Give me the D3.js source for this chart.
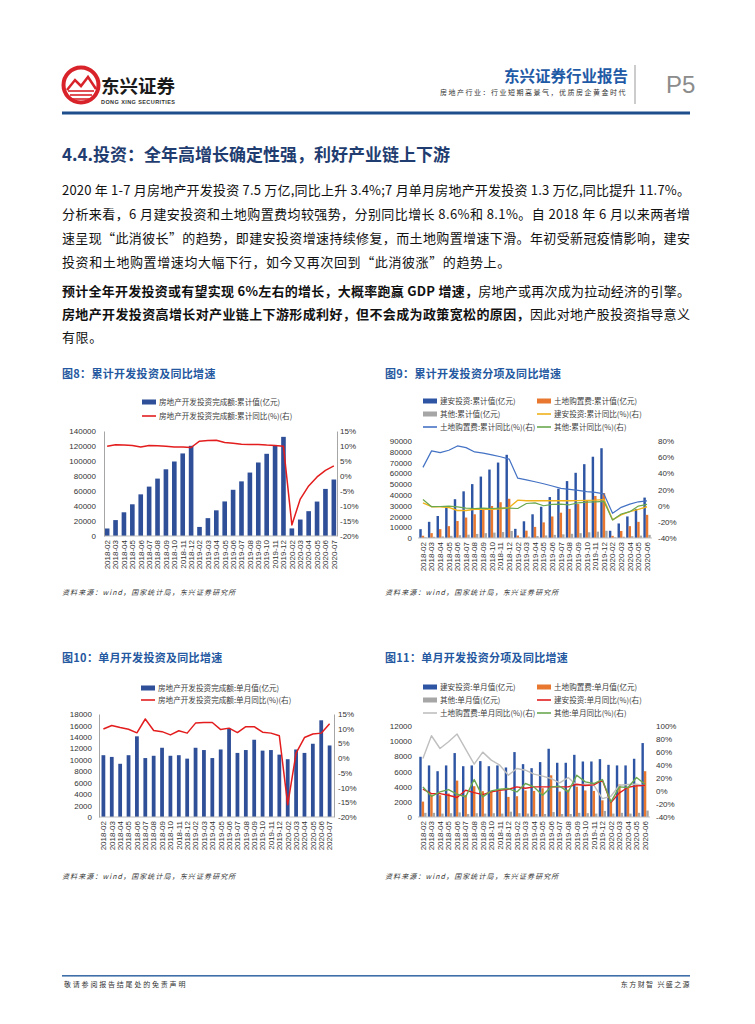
<!DOCTYPE html>
<html lang="zh">
<head>
<meta charset="UTF-8">
<title>房地产行业 P5</title>
<script src="https://d3js.org/d3.v7.min.js"></script>
<style>
  body { margin: 0; background: #fff; }
  svg { display: block; font-family: "Liberation Sans", Arial, "Noto Sans CJK SC", sans-serif; }
</style>
</head>
<body>
<svg width="755" height="1024"></svg>
<script>
// ---- data ----
const cats8 = ["2018-02","2018-03","2018-04","2018-05","2018-06","2018-07","2018-08","2018-09","2018-10","2018-11","2018-12",
  "2019-02","2019-03","2019-04","2019-05","2019-06","2019-07","2019-08","2019-09","2019-10","2019-11","2019-12",
  "2020-02","2020-03","2020-04","2020-05","2020-06","2020-07"];
const cats9 = cats8.slice(0, 27);

// 图8 累计
const invCum = [10008,21208,31612,42272,55531,65866,76519,88948,99325,110083,120264,
  12090,23803,34217,46075,61609,72843,84589,98008,109603,121265,132194,
  10115,21963,33103,45920,62780,75325];
const invCumYoy = [9.9,10.4,10.3,10.2,9.7,10.2,10.1,9.9,9.7,9.7,9.5,
  11.6,11.8,11.9,11.2,10.9,10.6,10.5,10.5,10.3,10.2,9.9,
  -16.3,-7.7,-3.3,-0.3,1.9,3.4];

// 图9 累计分项
const jaCum = [8200,15000,20400,28000,36000,43300,50000,57000,63500,70000,77200,
  8500,15500,22000,29000,38000,45700,52800,60500,68500,75400,83300,
  6700,13500,20000,27000,37500];
const landCum = [2100,4500,8200,11000,15800,19000,22000,26000,29700,33200,36400,
  2300,6800,10300,14500,20000,23500,27000,31500,35100,39000,41700,
  2000,6500,11000,15000,21500];
const otherCum = [700,1100,1500,2000,2600,3100,3800,4500,5000,5500,6500,
  700,1300,1800,2400,2900,3400,3900,4500,5300,5900,6700,
  600,1200,1700,2200,2900];
const jaCumYoy = [3.5,-1.3,-1.5,-2.2,-6,-6,-4.5,-4.5,-4.5,-3.8,-2.2,
  6.8,6,6,6,6,6,6,6.2,6.5,6.8,7.5,
  -17.5,-11.5,-7.4,-4.6,-1.3];
const landCumYoy = [47.4,67.8,65.7,68.6,73.9,71.8,66.5,65,62.9,60.5,57.6,
  34,32,29.6,27.1,24.3,21.4,20.2,19,17.4,16.5,14.5,
  -9.5,-2.1,1.9,4.8,6.0];
const otherCumYoy = [7.6,-1.3,-1,-0.5,-1.5,-3,-3.5,-3,-3.5,-3,-3,
  -3.5,2.7,3.5,-0.1,1.5,2,1.1,3.5,4.3,4.8,5.2,
  -17.6,-10.3,-7.4,-0.5,1.5];

// 图10 单月
const invMon = [10800,10500,9300,10800,14100,10300,10700,12100,10700,10800,10200,
  12100,11700,10300,11800,15500,11200,11700,13500,11600,11700,10900,
  10100,11800,11200,12800,16900,12500];
const invMonYoy = [9.9,11.1,10.4,9.8,8.6,13.3,9.4,9.0,7.9,9.3,8.5,
  11.9,12.1,12.1,9.7,10.2,8.7,10.7,10.7,8.8,8.5,7.6,
  -15.8,1.7,7.0,8.2,8.5,11.7];

// 图11 单月分项
const jaMon = [7940,6800,6040,6800,8430,6700,6800,7370,6700,6800,6530,
  8560,6970,6440,7240,9000,7150,7150,8200,7320,7320,7630,
  6880,6800,6800,7680,9750];
const landMon = [2030,2960,2870,3100,4800,2900,4060,3400,3300,3400,2650,
  2740,3500,3440,3800,5500,3350,3600,4000,3500,3440,2200,
  2200,4280,3970,4300,6040];
const otherMon = [550,550,450,500,600,400,500,450,500,450,700,
  500,450,400,400,650,400,400,550,500,450,800,
  450,550,450,550,850];
const jaMonYoy = [2.7,-4,-4,-6.5,-10,1.2,-2.4,-5.5,-1.4,1.2,2.7,
  6.3,4.3,6.3,6.3,6.3,6.3,6.3,10.4,8.4,9.4,16.6,
  -17.8,-2.9,5.8,7.9,8.4];
const landMonYoy = [50,85,65.4,75.7,87.6,64.4,41.3,59.8,47.5,39.7,24.3,
  34.6,32,25.9,22.8,19.2,12.5,20.7,8.9,10.4,8.9,-11.7,
  -8.1,8.9,9.9,10.4,7.9];
const otherMonYoy = [6.3,-8.1,-1.4,2.2,-5,-9.1,17.6,-9.1,0.2,2.7,3.8,
  -1.4,11.5,6.3,-6.5,6.3,7.3,-1.4,24.3,14,11.5,17.6,
  -16.8,6.3,5.3,20.7,10.4];

const paraLines = [
  "2020 年 1-7 月房地产开发投资 7.5 万亿,同比上升 3.4%;7 月单月房地产开发投资 1.3 万亿,同比提升 11.7%。",
  "分析来看，6 月建安投资和土地购置费均较强势，分别同比增长 8.6%和 8.1%。自 2018 年 6 月以来两者增",
  "速呈现“此消彼长”的趋势，即建安投资增速持续修复，而土地购置增速下滑。年初受新冠疫情影响，建安",
  "投资和土地购置增速均大幅下行，如今又再次回到“此消彼涨”的趋势上。"
];

// ---- page ----
const svg = d3.select("svg");
svg.append("rect").attr("width", 755).attr("height", 1024).attr("fill", "#fff");
const CJK = "'Noto Sans CJK SC', sans-serif";

// logo
svg.append("circle").attr("cx", 81).attr("cy", 85).attr("r", 17.5)
  .attr("fill", "none").attr("stroke", "#d9232a").attr("stroke-width", 4);
svg.append("path").attr("d", "M67,90 L75,80 L81,86 L88,77 L96,89")
  .attr("fill", "none").attr("stroke", "#d9232a").attr("stroke-width", 2.5);
[91, 95, 99].forEach(function (y, i) {
  svg.append("line").attr("x1", 68 + i * 2).attr("x2", 94 - i * 2).attr("y1", y).attr("y2", y)
    .attr("stroke", "#d9232a").attr("stroke-width", 1.6);
});
svg.append("text").attr("x", 101).attr("y", 93).attr("font-family", CJK).attr("font-weight", 700)
  .attr("font-size", 18.5).attr("fill", "#1a1a1a").text("东兴证券");
svg.append("text").attr("x", 101).attr("y", 104).attr("font-size", 5.5).attr("font-weight", 700)
  .attr("fill", "#333").attr("textLength", 74).text("DONG XING SECURITIES");

// header right
svg.append("text").attr("x", 628).attr("y", 82).attr("text-anchor", "end").attr("font-family", CJK)
  .attr("font-weight", 700).attr("font-size", 15.5).attr("fill", "#1f5aa6").text("东兴证券行业报告");
svg.append("text").attr("x", 627).attr("y", 95).attr("text-anchor", "end").attr("font-family", CJK)
  .attr("font-size", 7).attr("letter-spacing", 1.5).attr("fill", "#333")
  .text("房地产行业：行业短期高景气，优质房企黄金时代");
svg.append("line").attr("x1", 635).attr("x2", 635).attr("y1", 65).attr("y2", 104)
  .attr("stroke", "#999").attr("stroke-width", 1);
svg.append("text").attr("x", 666).attr("y", 93).attr("font-size", 24).attr("fill", "#8c8c8c").text("P5");
svg.append("rect").attr("x", 62).attr("y", 111.5).attr("width", 628).attr("height", 3).attr("fill", "#1f4e8c");

// section title
svg.append("text").attr("x", 62).attr("y", 161).attr("font-family", CJK).attr("font-weight", 700)
  .attr("font-size", 17).attr("fill", "#1f3d70").text("4.4.投资：全年高增长确定性强，利好产业链上下游");

function justify(t, width) {
  const w = t.node().getComputedTextLength();
  const n = t.text().length;
  t.attr("letter-spacing", (width - w) / (n - 1));
}

const bodyY = [195, 219, 243, 267];
paraLines.forEach(function (s, i) {
  const t = svg.append("text").attr("x", 62).attr("y", bodyY[i]).attr("font-family", CJK)
    .attr("font-size", 13).attr("fill", "#111").text(s);
  if (i < 3) justify(t, 628); else t.attr("letter-spacing", 0.6);
});

const boldLines = [
  ["预计全年开发投资或有望实现 6%左右的增长，大概率跑赢 GDP 增速，", "房地产或再次成为拉动经济的引擎。", 296, true],
  ["房地产开发投资高增长对产业链上下游形成利好，但不会成为政策宽松的原因，", "因此对地产股投资指导意义", 319, true],
  ["", "有限。", 342, false]
];
boldLines.forEach(function (b) {
  const t = svg.append("text").attr("x", 62).attr("y", b[2]).attr("font-family", CJK)
    .attr("font-size", 13).attr("fill", "#111");
  if (b[0]) t.append("tspan").attr("font-weight", 700).text(b[0]);
  t.append("tspan").text(b[1]);
  if (b[3]) justify(t, 628); else t.attr("letter-spacing", 0.6);
});

// ---- chart helper ----
function legend(items) {
  items.forEach(function (it) {
    if (it.type === "bar") {
      svg.append("rect").attr("x", it.x).attr("y", it.y - 2.5).attr("width", 14).attr("height", 5).attr("fill", it.color);
    } else {
      svg.append("line").attr("x1", it.x).attr("x2", it.x + 14).attr("y1", it.y).attr("y2", it.y)
        .attr("stroke", it.color).attr("stroke-width", 1.6);
    }
    svg.append("text").attr("x", it.x + 17).attr("y", it.y + 3).attr("font-family", CJK)
      .attr("font-size", 7.6).attr("fill", "#404040").text(it.label);
  });
}

function chart(c) {
  const g = svg.append("g");
  const x = d3.scaleBand().domain(c.cats).range([c.left, c.right]).paddingInner(c.pi).paddingOuter(c.po);
  const yL = d3.scaleLinear().domain(c.lDom).range([c.bottom, c.top]);
  const yR = d3.scaleLinear().domain(c.rDom).range([c.bottom, c.top]);
  const sub = d3.scaleBand().domain(d3.range(c.bars.length)).range([0, x.bandwidth()]);

  c.bars.forEach(function (b, i) {
    g.append("g").selectAll("rect").data(b.values).join("rect")
      .attr("x", (d, j) => x(c.cats[j]) + sub(i))
      .attr("width", sub.bandwidth())
      .attr("y", d => yL(d))
      .attr("height", d => yL(0) - yL(d))
      .attr("fill", b.color);
  });

  // baseline
  g.append("line").attr("x1", c.left).attr("x2", c.right).attr("y1", yL(0)).attr("y2", yL(0))
    .attr("stroke", "#bfbfbf").attr("stroke-width", 1);

  c.lines.forEach(function (l) {
    const line = d3.line().x((d, j) => x(c.cats[j]) + x.bandwidth() / 2).y(d => yR(d));
    g.append("path").datum(l.values).attr("d", line).attr("fill", "none")
      .attr("stroke", l.color).attr("stroke-width", l.w || 1.3).attr("stroke-linejoin", "round");
  });

  const axL = g.append("g").attr("transform", "translate(" + c.left + ",0)")
    .call(d3.axisLeft(yL).tickValues(c.lTicks).tickSize(0).tickPadding(c.lPad).tickFormat(d3.format("d")));
  const axR = g.append("g").attr("transform", "translate(" + c.right + ",0)")
    .call(d3.axisRight(yR).tickValues(c.rTicks).tickSize(0).tickPadding(c.rPad).tickFormat(d => d + "%"));
  const axX = g.append("g").attr("transform", "translate(0," + c.bottom + ")")
    .call(d3.axisBottom(x).tickSize(0));
  axX.select(".domain").remove();
  axX.selectAll("text").attr("transform", "rotate(-90)").attr("text-anchor", "end")
    .attr("x", -4).attr("y", 0).attr("dy", "0.35em");
  [axL, axR].forEach(function (a) {
    if (c.vAxis) a.select(".domain").attr("stroke", "#a6a6a6");
    else a.select(".domain").remove();
  });
  [axL, axR, axX].forEach(function (a) {
    a.attr("font-family", "'Liberation Sans', Arial, sans-serif").attr("font-size", 8);
    a.selectAll("text").attr("fill", "#333");
  });

  svg.append("text").attr("x", c.titleX).attr("y", c.titleY).attr("font-family", CJK).attr("font-weight", 700)
    .attr("font-size", 11).attr("letter-spacing", 0.3).attr("fill", "#2458a0").text(c.title);
  svg.append("text").attr("x", c.titleX).attr("y", c.srcY).attr("font-family", CJK).attr("font-style", "italic")
    .attr("font-size", 7).attr("letter-spacing", 1.1).attr("fill", "#333").text("资料来源：wind，国家统计局，东兴证券研究所");
  legend(c.legend);
}

const BLUE = "#2f4f98", BLUE2 = "#2e55a3", ORANGE = "#e8782f", GREYBAR = "#a6a6a6",
  RED = "#e31d1d", GOLD = "#f0b21a", LBLUE = "#4472c4", GREEN = "#6aa84f", GREYLINE = "#bfbfbf";

// 图8
chart({
  title: "图8：累计开发投资及同比增速", titleX: 62, titleY: 378, srcY: 595,
  cats: cats8, left: 104, right: 337, top: 431, bottom: 536, pi: 0.45, po: 0.1,
  lDom: [0, 140000], lTicks: d3.range(0, 140001, 20000), lPad: 8,
  rDom: [-20, 15], rTicks: d3.range(-20, 16, 5), rPad: 3, vAxis: true,
  bars: [{ values: invCum, color: BLUE }],
  lines: [{ values: invCumYoy, color: RED, w: 1.5 }],
  legend: [
    { x: 142, y: 402, type: "bar", color: BLUE, label: "房地产开发投资完成额:累计值(亿元)" },
    { x: 142, y: 416, type: "line", color: RED, label: "房地产开发投资完成额:累计同比(%)(右)" }
  ]
});

// 图9
chart({
  title: "图9：累计开发投资分项及同比增速", titleX: 385, titleY: 378, srcY: 595,
  cats: cats9, left: 418, right: 652, top: 441, bottom: 538, pi: 0.15, po: 0.15,
  lDom: [0, 90000], lTicks: d3.range(0, 90001, 10000), lPad: 6,
  rDom: [-40, 80], rTicks: d3.range(-40, 81, 20), rPad: 6, vAxis: false,
  bars: [{ values: jaCum, color: BLUE2 }, { values: landCum, color: ORANGE }, { values: otherCum, color: GREYBAR }],
  lines: [
    { values: landCumYoy, color: LBLUE, w: 1.2 },
    { values: jaCumYoy, color: GOLD, w: 1.4 },
    { values: otherCumYoy, color: GREEN, w: 1.2 }
  ],
  legend: [
    { x: 423, y: 401, type: "bar", color: BLUE2, label: "建安投资:累计值(亿元)" },
    { x: 537, y: 401, type: "bar", color: ORANGE, label: "土地购置费:累计值(亿元)" },
    { x: 423, y: 414, type: "bar", color: GREYBAR, label: "其他:累计值(亿元)" },
    { x: 537, y: 414, type: "line", color: GOLD, label: "建安投资:累计同比(%)(右)" },
    { x: 423, y: 427, type: "line", color: LBLUE, label: "土地购置费:累计同比(%)(右)" },
    { x: 537, y: 427, type: "line", color: GREEN, label: "其他:累计同比(%)(右)" }
  ]
});

// 图10
chart({
  title: "图10：单月开发投资及同比增速", titleX: 62, titleY: 662, srcY: 879,
  cats: cats8, left: 99, right: 334, top: 714, bottom: 817, pi: 0.55, po: 0.3,
  lDom: [0, 18000], lTicks: d3.range(0, 18001, 2000), lPad: 7,
  rDom: [-20, 15], rTicks: d3.range(-20, 16, 5), rPad: 4, vAxis: true,
  bars: [{ values: invMon, color: BLUE }],
  lines: [{ values: invMonYoy, color: RED, w: 1.5 }],
  legend: [
    { x: 141, y: 688, type: "bar", color: BLUE, label: "房地产开发投资完成额:单月值(亿元)" },
    { x: 141, y: 700, type: "line", color: RED, label: "房地产开发投资完成额:单月同比(%)(右)" }
  ]
});

// 图11
chart({
  title: "图11：单月开发投资分项及同比增速", titleX: 385, titleY: 662, srcY: 879,
  cats: cats9, left: 418, right: 650, top: 726, bottom: 817, pi: 0.15, po: 0.15,
  lDom: [0, 12000], lTicks: d3.range(0, 12001, 2000), lPad: 6,
  rDom: [-40, 100], rTicks: d3.range(-40, 101, 20), rPad: 6, vAxis: false,
  bars: [{ values: jaMon, color: BLUE2 }, { values: landMon, color: ORANGE }, { values: otherMon, color: GREYBAR }],
  lines: [
    { values: landMonYoy, color: GREYLINE, w: 1.4 },
    { values: jaMonYoy, color: RED, w: 1.4 },
    { values: otherMonYoy, color: GREEN, w: 1.4 }
  ],
  legend: [
    { x: 423, y: 687, type: "bar", color: BLUE2, label: "建安投资:单月值(亿元)" },
    { x: 537, y: 687, type: "bar", color: ORANGE, label: "土地购置费:单月值(亿元)" },
    { x: 423, y: 700, type: "bar", color: GREYBAR, label: "其他:单月值(亿元)" },
    { x: 537, y: 700, type: "line", color: RED, label: "建安投资:单月同比(%)(右)" },
    { x: 423, y: 713, type: "line", color: GREYLINE, label: "土地购置费:单月同比(%)(右)" },
    { x: 537, y: 713, type: "line", color: GREEN, label: "其他:单月同比(%)(右)" }
  ]
});

// footer
svg.append("rect").attr("x", 62).attr("y", 975).attr("width", 628).attr("height", 1.6).attr("fill", "#3f6fa8");
svg.append("text").attr("x", 64).attr("y", 987).attr("font-family", CJK).attr("font-size", 7)
  .attr("letter-spacing", 1.8).attr("fill", "#333").text("敬请参阅报告结尾处的免责声明");
svg.append("text").attr("x", 691).attr("y", 987).attr("text-anchor", "end").attr("font-family", CJK)
  .attr("font-size", 7).attr("letter-spacing", 1.4).attr("fill", "#333").text("东方财智 兴盛之源");
</script>
</body>
</html>
